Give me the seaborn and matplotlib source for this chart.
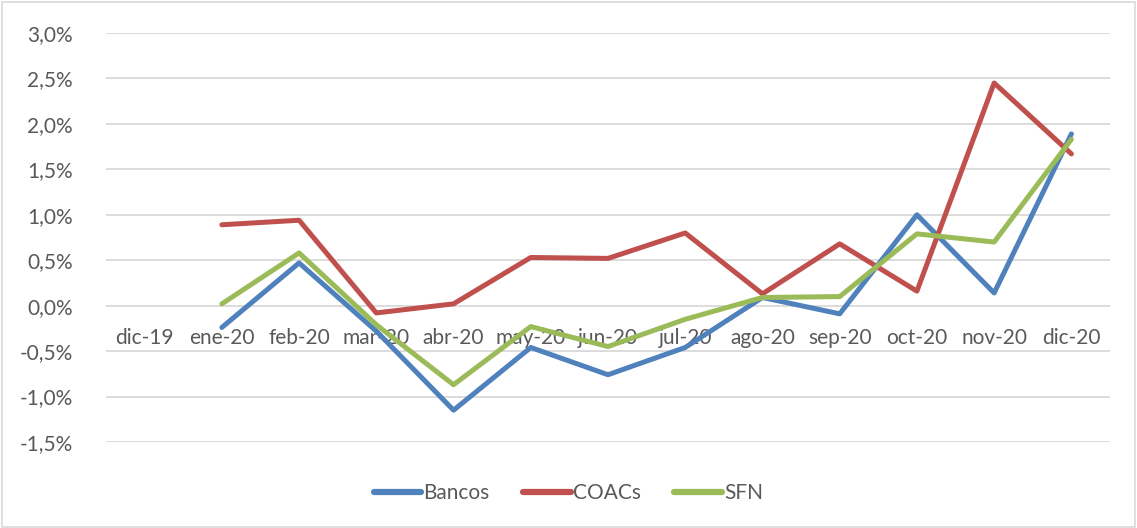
import numpy as np
import pandas as pd
import matplotlib
matplotlib.use("Agg")
import matplotlib.pyplot as plt
from matplotlib.ticker import FuncFormatter, MultipleLocator
from matplotlib.patches import Rectangle
import seaborn as sns

months = ["dic-19", "ene-20", "feb-20", "mar-20", "abr-20", "may-20", "jun-20",
          "jul-20", "ago-20", "sep-20", "oct-20", "nov-20", "dic-20"]
bancos = [np.nan, -0.24, 0.47, -0.28, -1.15, -0.46, -0.76, -0.46, 0.09, -0.09, 1.00, 0.14, 1.89]
coacs = [np.nan, 0.89, 0.94, -0.08, 0.02, 0.53, 0.52, 0.80, 0.13, 0.68, 0.16, 2.45, 1.67]
sfn = [np.nan, 0.02, 0.58, -0.21, -0.87, -0.23, -0.45, -0.15, 0.09, 0.10, 0.79, 0.70, 1.83]
series_names = ["Bancos", "COACs", "SFN"]
colors = ["#4F81BD", "#C0504D", "#9BBB59"]

rows = []
for name, vals in zip(series_names, [bancos, coacs, sfn]):
    for i, (m, v) in enumerate(zip(months, vals)):
        rows.append({"idx": i, "mes": m, "serie": name, "valor": v})
df = pd.DataFrame(rows)

sns.set_theme(style="white")
plt.rcParams['font.family'] = ['Lato', 'DejaVu Sans']

fig = plt.figure(figsize=(11.37, 5.28), dpi=100)
ax = fig.add_axes([106/1137, 1-442/528, (1110-106)/1137, (442-33)/528])

sns.lineplot(data=df, x="idx", y="valor", hue="serie", palette=colors,
             hue_order=series_names, linewidth=3.6, ax=ax, legend=True,
             solid_capstyle="round")

ax.set_xlim(-0.5, 12.5)
ax.set_ylim(-1.5, 3.0)
ax.yaxis.set_major_locator(MultipleLocator(0.5))
ax.yaxis.set_major_formatter(FuncFormatter(lambda v, p: f"{v:.1f}%".replace(".", ",")))
ax.set_xticks(range(len(months)))
ax.set_xticklabels(months)
ax.grid(axis="y", color="#D9D9D9", linewidth=1.3)
ax.set_axisbelow(True)
for s in ["top", "right", "left"]:
    ax.spines[s].set_visible(False)
ax.spines["bottom"].set_position(("data", 0))
ax.spines["bottom"].set_visible(False)
ax.tick_params(axis="x", length=0, pad=16, labelsize=15, labelcolor="#595959")
ax.tick_params(axis="y", length=0, pad=24, labelsize=15, labelcolor="#595959")
ax.set_xlabel("")
ax.set_ylabel("")

handles, labels = ax.get_legend_handles_labels()
for h in handles:
    h.set_linewidth(4.5)
ax.legend(handles, labels, loc="center", bbox_to_anchor=(0.5, 1-493/528),
          bbox_transform=fig.transFigure, ncol=3, frameon=False, fontsize=15,
          handlelength=2.3, handletextpad=0.1, columnspacing=1.6,
          labelcolor="#595959")

fig.add_artist(Rectangle((0.002, 0.002), 0.996, 0.994, transform=fig.transFigure,
                         fill=False, edgecolor="#D9D9D9", linewidth=1.2))

fig.savefig("out.png", dpi=100)
